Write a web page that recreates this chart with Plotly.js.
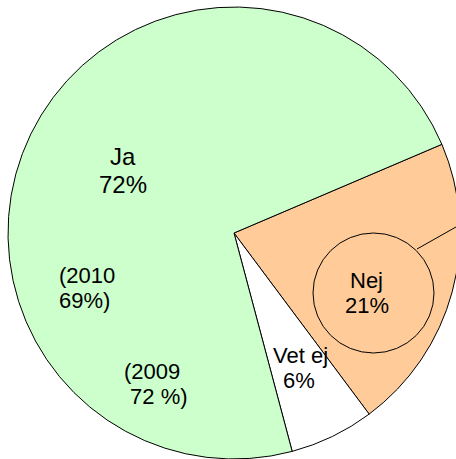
<!DOCTYPE html>
<html>
<head>
<meta charset="utf-8">
<script src="https://cdn.plot.ly/plotly-3.0.1.min.js"></script>
<style>
html,body{margin:0;padding:0;overflow:hidden;background:#fff;width:456px;height:459px;}
#chart{width:470px;height:470px;}
</style>
</head>
<body>
<div id="chart"></div>
<script>
// Data
var labels = ["Nej", "Vet ej", "Ja"];
var values = [21, 6, 72];
var colors = ["#ffcc99", "#ffffff", "#ccffcc"];
var previousYears = [["(2010", "69%)"], ["(2009", "\u00a072 %)"]];

var W = 470, H = 470;
function px(x){ return x / W; }
function py(y){ return 1 - y / H; }

var trace = {
  type: "pie",
  labels: labels,
  values: values,
  sort: false,
  direction: "clockwise",
  rotation: 66.9,
  marker: {colors: colors, line: {color: "#000000", width: 1}},
  textinfo: "none",
  hoverinfo: "none",
  domain: {x: [px(8), px(460)], y: [py(459), py(7)]}
};

var FAM = "Liberation Sans, Arial, sans-serif";
var annotations = [];
// one annotation per text line, placed by baseline
function line(text, x, baseline, xanchor, size){
  annotations.push({
    text: text, xref: "paper", yref: "paper",
    x: px(x), y: py(baseline - 0.3465 * size),
    xanchor: xanchor, yanchor: "middle", showarrow: false,
    borderpad: 0,
    font: {family: FAM, size: size, color: "#000"}
  });
}
line(labels[2], 123, 165, "center", 24);
line(values[2] + "%", 123, 193, "center", 24);
line(previousYears[0][0], 58, 283, "left", 22);
line(previousYears[0][1], 58, 308, "left", 22);
line(previousYears[1][0], 122.5, 379.5, "left", 22);
line(previousYears[1][1], 122.5, 404.5, "left", 22);
line(labels[1], 300, 363, "center", 22);
line(values[1] + "%", 299, 388, "center", 22);
line(labels[0], 366, 288.5, "center", 22);
line(values[0] + "%", 367, 313.5, "center", 22);

var shapes = [
  {type: "circle", xref: "paper", yref: "paper",
   x0: px(313), x1: px(434), y0: py(353), y1: py(233),
   line: {color: "#000", width: 1}},
  {type: "line", xref: "paper", yref: "paper",
   x0: px(417), y0: py(249), x1: px(462), y1: py(223.6),
   line: {color: "#000", width: 1}}
];

var layout = {
  width: W, height: H,
  margin: {l: 0, r: 0, t: 0, b: 0, pad: 0},
  showlegend: false,
  paper_bgcolor: "#ffffff",
  annotations: annotations,
  shapes: shapes
};

Plotly.newPlot("chart", [trace], layout, {displayModeBar: false, staticPlot: true});
</script>
</body>
</html>
